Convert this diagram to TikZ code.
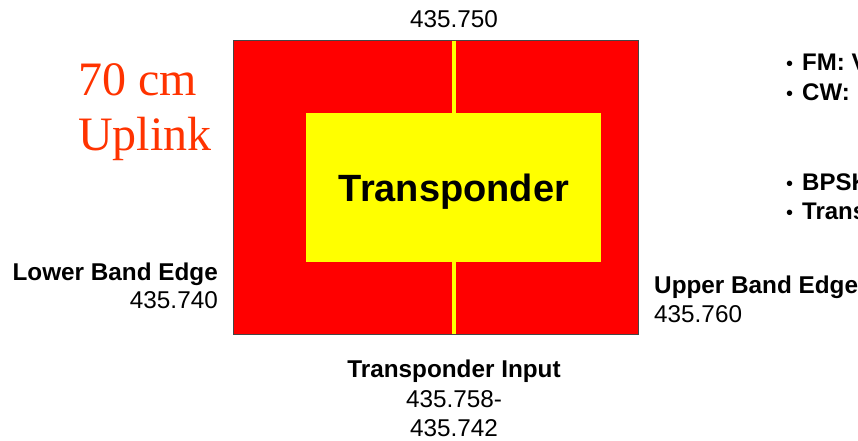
\documentclass[tikz,border=0pt]{standalone}
\usepackage{fontspec}
\setmainfont{Liberation Sans}
\newfontfamily\serifface{Liberation Serif}
\definecolor{bandred}{RGB}{255,0,0}
\definecolor{bandyellow}{RGB}{255,255,0}
\definecolor{titlered}{RGB}{255,51,0}
\definecolor{rim}{RGB}{70,70,70}
\tikzset{
  lbl/.style={inner sep=0pt, font=\fontsize{24.3}{28}\selectfont},
  boldlbl/.style={lbl, font=\fontsize{24.3}{28}\selectfont\bfseries},
  title/.style={inner sep=0pt, text=titlered, font=\fontsize{48}{56}\serifface},
  bulletitem/.style={inner sep=0pt, anchor=base west, font=\fontsize{24}{28}\selectfont\bfseries},
}
\newcommand{\modebullet}{{\mdseries\fontsize{20}{24}\selectfont\textbullet}\hspace{9pt}}
\begin{document}
\begin{tikzpicture}[x=1pt,y=-1pt]
  \useasboundingbox (0,0) rectangle (858,440);
  \clip (0,0) rectangle (858,440);

  % uplink band with the transponder passband inside it
  \node (band) [draw=rim, line width=1pt, fill=bandred, inner sep=0pt,
        minimum width=405pt, minimum height=294pt, anchor=north west] at (233,40) {};
  \node (xpdr) [fill=bandyellow, inner sep=0pt,
        minimum width=295pt, minimum height=149pt, anchor=north west] at (306,113) {};
  \draw[bandyellow, line width=4pt] (454,40.5) -- (454,113);
  \draw[bandyellow, line width=4pt] (454,262) -- (454,333.5);
  \node[inner sep=0pt, anchor=base, font=\fontsize{38}{40}\selectfont\bfseries] (xname) at (454,201) {Transponder};

  % frequency labels
  \node[lbl, anchor=base] (centre) at (454,27) {435.750};
  \node[boldlbl, anchor=base east] (lowname) at (218,280) {Lower Band Edge};
  \node[lbl, anchor=base east] (lowfreq) at (218,308) {435.740};
  \node[boldlbl, anchor=base west] (upname) at (654,293) {Upper Band Edge};
  \node[lbl, anchor=base west] (upfreq) at (654,322) {435.760};
  \node[boldlbl, anchor=base] (inname) at (454,377) {Transponder Input};
  \node[lbl, anchor=base] (infreqa) at (454,407) {435.758-};
  \node[lbl, anchor=base] (infreqb) at (454,436) {435.742};

  % title
  \node[title, anchor=base west] (titlea) at (78,95) {70 cm};
  \node[title, anchor=base west] (titleb) at (78,150) {Uplink};

  % mode list (runs on past the right edge)
  \node[bulletitem] (fm) at (786,70) {\modebullet FM: V};
  \node[bulletitem] (cw) at (786,100) {\modebullet CW:};
  \node[bulletitem] (bpsk) at (786,190) {\modebullet BPSK};
  \node[bulletitem] (trans) at (786,219) {\modebullet Trans};
\end{tikzpicture}
\end{document}
